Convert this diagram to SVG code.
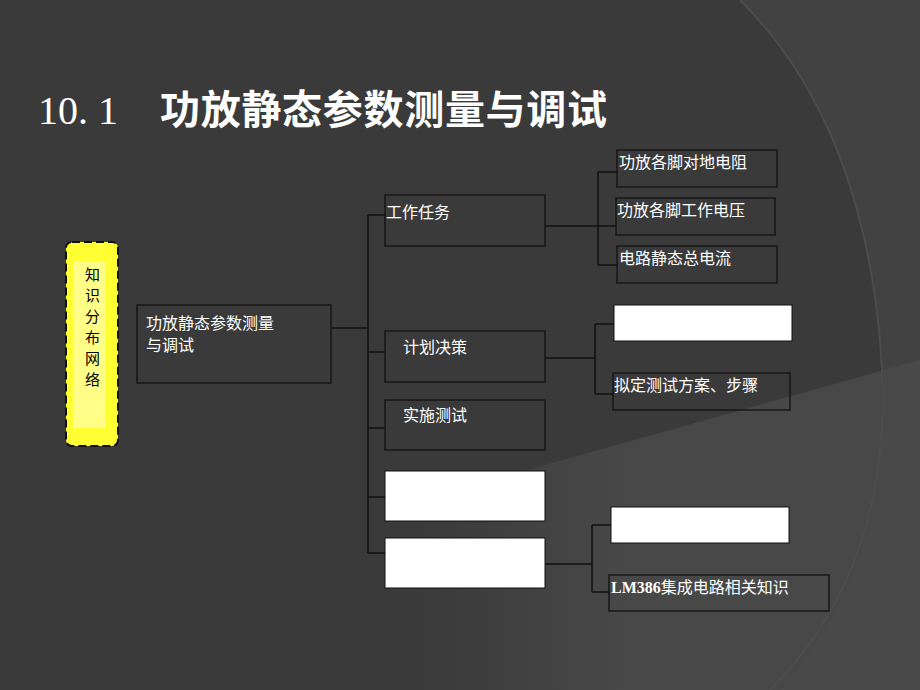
<svg xmlns="http://www.w3.org/2000/svg" width="920" height="690" viewBox="0 0 920 690">
<defs>
<linearGradient id="g" x1="420" y1="0" x2="620" y2="0" gradientUnits="userSpaceOnUse"><stop offset="0" stop-color="#4a4a4a" stop-opacity="0"/><stop offset="1" stop-color="#4a4a4a" stop-opacity="0.85"/></linearGradient>
<style>
.b{fill:none;stroke:#111;stroke-width:1.3}
.w{fill:#fff;stroke:#111;stroke-width:1}
.t{font-family:"Noto Sans CJK SC","Liberation Sans",sans-serif;font-size:16px;fill:#fff}
.c{fill:none;stroke:#111;stroke-width:1.5}
</style>
</defs>
<rect width="920" height="690" fill="#3a3a3a"/>
<path d="M740,0 L920,0 L920,690 L780,690 Q900,560 880,340 Q860,120 740,0Z" fill="#424242"/>
<path d="M420,500 L920,360 L920,690 L420,690Z" fill="url(#g)"/>
<path d="M740,0 Q860,120 880,340 Q900,560 770,690" fill="none" stroke="#4c4c4c" stroke-width="2"/>
<text x="38" y="124" font-family="'Liberation Serif','Noto Sans CJK SC',serif" font-size="40" fill="#fff">10. 1</text>
<text x="160" y="124" font-family="'Noto Sans CJK SC',sans-serif" font-size="40" font-weight="bold" fill="#fff" textLength="447">功放静态参数测量与调试</text>
<g id="connectors" class="c">
<path d="M331,328 H368 M368,215 V553 M368,215 H385 M368,352 H385 M368,428 H385 M368,497 H385 M368,553 H385"/>
<path d="M545,226 H598 M598,172 V265 M598,172 H617 M598,226 H616 M598,265 H617"/>
<path d="M545,358 H595 M595,324 V394 M595,324 H614 M595,394 H613"/>
<path d="M545,564 H592 M592,525 V592 M592,525 H611 M592,592 H609"/>
</g>
<g id="n0"><rect x="66" y="242" width="52" height="204" rx="6" fill="#ffff33" stroke="#111" stroke-width="2" stroke-dasharray="8,4"/><rect x="73" y="262" width="32" height="166" fill="#ffff88"/>
<text font-family="'Noto Sans CJK SC',sans-serif" font-size="15" fill="#000"><tspan x="85" y="280">知</tspan><tspan x="85" y="301">识</tspan><tspan x="85" y="322">分</tspan><tspan x="85" y="343">布</tspan><tspan x="85" y="364">网</tspan><tspan x="85" y="385">络</tspan></text></g>
<g id="n1"><rect class="b" x="137" y="305" width="194" height="78"/><text class="t" x="146" y="329">功放静态参数测量</text><text class="t" x="146" y="351">与调试</text></g>
<g id="n2"><rect class="b" x="385" y="195" width="160" height="51"/><text class="t" x="386" y="218">工作任务</text></g>
<g id="n3"><rect class="b" x="385" y="331" width="160" height="51"/><text class="t" x="403" y="353">计划决策</text></g>
<g id="n4"><rect class="b" x="385" y="400" width="160" height="50"/><text class="t" x="403" y="421">实施测试</text></g>
<g id="n5"><rect class="w" x="385" y="471" width="160" height="50"/></g>
<g id="n6"><rect class="w" x="385" y="538" width="160" height="50"/></g>
<g id="n7"><rect class="b" x="617" y="150" width="160" height="37"/><text class="t" x="619" y="168">功放各脚对地电阻</text></g>
<g id="n8"><rect class="b" x="616" y="198" width="159" height="37"/><text class="t" x="617" y="216">功放各脚工作电压</text></g>
<g id="n9"><rect class="b" x="617" y="246" width="160" height="37"/><text class="t" x="619" y="264">电路静态总电流</text></g>
<g id="n10"><rect class="w" x="614" y="305" width="178" height="36"/></g>
<g id="n11"><rect class="b" x="613" y="373" width="177" height="37"/><text class="t" x="614" y="391">拟定测试方案、步骤</text></g>
<g id="n12"><rect class="w" x="611" y="507" width="178" height="36"/></g>
<g id="n13"><rect class="b" x="609" y="575" width="220" height="36"/><text class="t" x="611" y="593"><tspan font-family="'Liberation Serif',serif" font-weight="bold">LM386</tspan>集成电路相关知识</text></g>
</svg>
